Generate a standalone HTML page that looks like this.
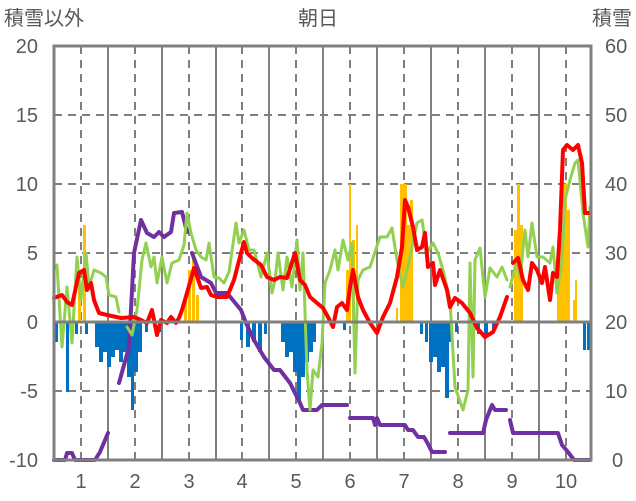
<!DOCTYPE html>
<html><head><meta charset="utf-8"><style>
body{margin:0;background:#fff;}
svg{display:block;font-family:"Liberation Sans","Noto Sans CJK JP",sans-serif;}
</style></head><body>
<svg width="636" height="501" viewBox="0 0 636 501">
<rect width="636" height="501" fill="#fff"/>
<g fill="#595959" font-size="20">
<text x="4" y="25">積雪以外</text>
<text x="318" y="25" text-anchor="middle">朝日</text>
<text x="632" y="25" text-anchor="end">積雪</text>
<g text-anchor="end">
<text x="38" y="53">20</text><text x="38" y="122">15</text><text x="38" y="191">10</text>
<text x="38" y="260">5</text><text x="38" y="329">0</text><text x="38" y="398">-5</text><text x="38" y="467">-10</text>
</g>
<g text-anchor="start">
<text x="605" y="53">60</text><text x="605" y="122">50</text><text x="605" y="191">40</text>
<text x="605" y="260">30</text><text x="605" y="329">20</text><text x="605" y="398">10</text><text x="612" y="467">0</text>
</g>
<g text-anchor="middle">
<text x="81" y="488">1</text><text x="135" y="488">2</text><text x="189" y="488">3</text><text x="242" y="488">4</text><text x="296" y="488">5</text>
<text x="350" y="488">6</text><text x="404" y="488">7</text><text x="458" y="488">8</text><text x="512" y="488">9</text><text x="566" y="488">10</text>
</g>
</g>
<g stroke="#808080" stroke-width="2" fill="none">
<g stroke-dasharray="8,6">
<path d="M54 115H591M54 184H591M54 253H591M54 391H591"/>
<path d="M81 46V460M135 46V460M189 46V460M242 46V460M296 46V460M350 46V460M404 46V460M458 46V460M512 46V460M566 46V460"/>
</g>
<path d="M108 46V460M162 46V460M216 46V460M269 46V460M323 46V460M377 46V460M431 46V460M485 46V460M539 46V460"/>
</g>
<g fill="#ffc000">
<rect x="78" y="285" width="3" height="37"/><rect x="83" y="225" width="3" height="97"/>
<rect x="184" y="295" width="3" height="27"/><rect x="188" y="270" width="3" height="52"/><rect x="192" y="255" width="3" height="67"/><rect x="196" y="295" width="3" height="27"/>
<rect x="346" y="270" width="3" height="52"/><rect x="349" y="184" width="2" height="138"/><rect x="352" y="240" width="3" height="82"/><rect x="356" y="225" width="2" height="97"/>
<rect x="396" y="308" width="2" height="14"/><rect x="400" y="184" width="7" height="138"/><rect x="407" y="225" width="3" height="97"/><rect x="410" y="200" width="3" height="122"/>
<rect x="514" y="230" width="3" height="92"/><rect x="517" y="184" width="3" height="138"/><rect x="520" y="225" width="3" height="97"/>
<rect x="557" y="240" width="6" height="82"/><rect x="563" y="184" width="4" height="138"/><rect x="567" y="210" width="3" height="112"/><rect x="573" y="300" width="2" height="22"/><rect x="575" y="280" width="2" height="42"/>
</g>
<g fill="#0070c0">
<rect x="55" y="322" width="3" height="20"/><rect x="66" y="322" width="3" height="70"/><rect x="75" y="322" width="3" height="12"/><rect x="85" y="322" width="3" height="12"/>
<rect x="95" y="322" width="4" height="25"/><rect x="99" y="322" width="4" height="40"/><rect x="103" y="322" width="4" height="30"/><rect x="107" y="322" width="4" height="45"/><rect x="111" y="322" width="4" height="35"/><rect x="115" y="322" width="4" height="28"/><rect x="119" y="322" width="4" height="40"/><rect x="123" y="322" width="4" height="30"/><rect x="127" y="322" width="4" height="55"/><rect x="131" y="322" width="3" height="88"/><rect x="134" y="322" width="4" height="50"/><rect x="138" y="322" width="4" height="30"/><rect x="145" y="322" width="3" height="10"/><rect x="158" y="322" width="3" height="10"/>
<rect x="240" y="322" width="3" height="18"/><rect x="246" y="322" width="4" height="25"/><rect x="252" y="322" width="4" height="20"/><rect x="258" y="322" width="4" height="30"/><rect x="264" y="322" width="3" height="12"/>
<rect x="281" y="322" width="4" height="20"/><rect x="285" y="322" width="4" height="35"/><rect x="289" y="322" width="4" height="30"/><rect x="293" y="322" width="4" height="50"/><rect x="297" y="322" width="4" height="80"/><rect x="301" y="322" width="4" height="55"/><rect x="305" y="322" width="4" height="40"/><rect x="309" y="322" width="4" height="30"/><rect x="313" y="322" width="3" height="20"/><rect x="343" y="322" width="3" height="8"/>
<rect x="420" y="322" width="3" height="12"/><rect x="425" y="322" width="3" height="20"/><rect x="429" y="322" width="4" height="40"/><rect x="433" y="322" width="4" height="35"/><rect x="437" y="322" width="4" height="50"/><rect x="441" y="322" width="4" height="45"/><rect x="445" y="322" width="4" height="76"/><rect x="449" y="322" width="3" height="20"/><rect x="455" y="322" width="3" height="10"/>
<rect x="477" y="322" width="3" height="12"/><rect x="484" y="322" width="4" height="15"/><rect x="492" y="322" width="3" height="10"/>
<rect x="583" y="322" width="3" height="28"/><rect x="587" y="322" width="3" height="28"/>
</g>
<g fill="none" stroke-linejoin="round" stroke-linecap="round">
<g stroke="#7030a0" stroke-width="4">
<polyline points="54,460 65,460 67,453 72,453 75,460 95,460 100,452 108,433"/>
<polyline points="119,383 129,347 134,253 141,220 147,233 154,237 159,232 164,237 171,232 174,213 182,212 187,232"/>
<polyline points="192,253 201,277 211,283 216,293 227,293 241,310 246,323 254,340 264,357 274,370 280,370 290,383 300,403 303,410 317,410 322,405 347,405"/>
<polyline points="350,418 373,418 375,425 377,418 380,425 405,425 408,430 413,430 418,437 424,437 428,444 432,452 445,452"/>
<polyline points="450,433 483,433 486,420 492,405 495,410 506,410"/>
<polyline points="510,420 513,433 558,433 562,445 568,452 574,460 590,460"/>
</g>
<polyline stroke="#92d050" stroke-width="3" points="54,270 57,265 62,347 67,287 72,343 77,257 81,300 86,253 89,287 94,270 101,273 106,277 109,295 116,297 119,312"/>
<polyline stroke="#92d050" stroke-width="3" points="127,327 132,335 137,310 142,260 146,243 151,267 154,257 157,283 162,257 167,283 172,263 179,260 184,245 187,213 191,233 196,250 201,257 206,260 209,243 214,277 219,278 224,283 229,272 236,223 239,243 244,230 249,250 254,250 261,277 267,253 272,293 275,280 278,253 283,290 287,257 292,287 297,240 300,290 303,253 307,370 310,410 313,370 318,377 322,343 325,283 330,270 335,250 338,270 343,240 348,260 352,243 355,373 358,280 363,270 370,267 380,237 387,237 392,228 397,260 403,287 410,257 417,223 422,220 427,253 433,243 438,253 443,270 450,300 455,387 463,410 468,390 470,263 473,377 475,260 480,248 485,297 490,268 497,277 502,267 507,280"/>
<polyline stroke="#92d050" stroke-width="3" points="510,287 517,260 520,277 525,230 528,257 532,223 537,257 543,257 550,263 553,247 557,293 562,260 565,200 570,180 575,163 578,160 583,213 588,247 590,207"/>
<polyline stroke="#ff0000" stroke-width="4" points="54,298 62,295 67,302 72,305 79,273 84,270 87,290 91,283 94,300 99,313 107,315 121,318 134,317 141,320 147,323 152,310 157,335 161,320 167,323 171,317 176,323 179,318 182,310 187,293 194,268 201,288 207,287 211,295 217,297 227,297 234,280 241,253 244,242 247,253 252,258 261,265 267,277 274,280 280,277 287,278 295,253 300,280 305,285 310,297 317,303 323,308 328,317 333,327 337,307 342,303 347,310 350,287 353,270 358,297 363,310 370,323 377,333 383,317 390,303 397,277 402,247 405,200 408,207 413,227 417,250 422,247 425,233 428,267 433,263 435,285 440,270 447,290 450,307 455,298 462,303 470,313 477,328 485,337 493,332 500,317 507,297"/>
<polyline stroke="#ff0000" stroke-width="4" points="513,263 518,258 523,280 528,290 532,263 537,270 542,283 545,267 550,300 553,273 557,277 560,230 563,150 567,145 573,150 578,145 582,163 585,213 588,213"/>
</g>
<path d="M54 322H591" stroke="#808080" stroke-width="3"/>
<rect x="54" y="46" width="537" height="414" fill="none" stroke="#808080" stroke-width="3"/>
</svg>
</body></html>
